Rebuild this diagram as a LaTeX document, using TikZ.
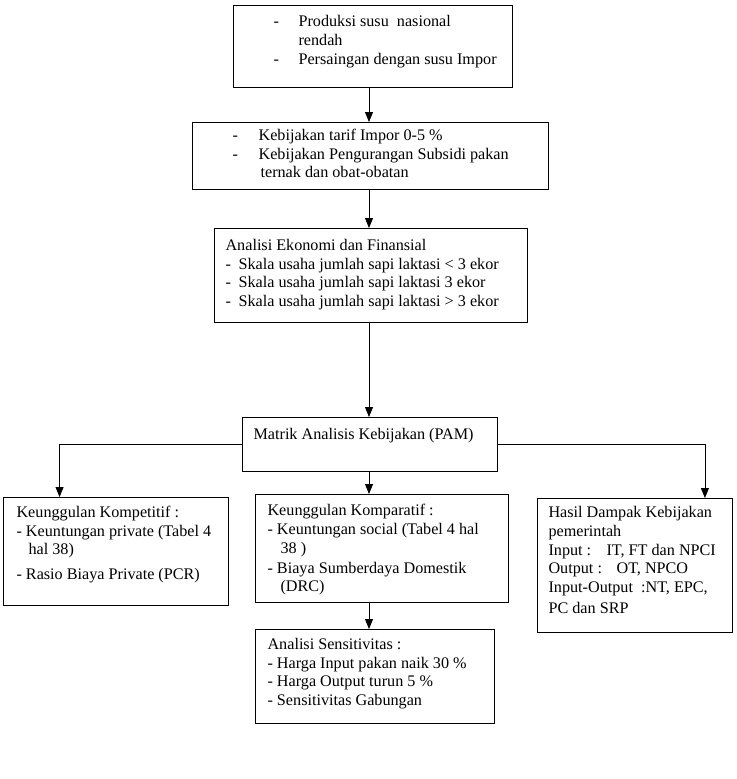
\documentclass[tikz,border=0pt]{standalone}
\usepackage{fontspec}
\setmainfont{Liberation Serif}
\usepackage{tikz}
\usetikzlibrary{calc}
\usetikzlibrary{arrows.meta}
\usetikzlibrary{positioning}
% text block inside a box: width, height, top gap, left gap, lines
\newcommand{\isikotak}[5]{\parbox[c][#2][t]{#1}{\vspace*{#3}\raggedright\leftskip=#4\relax\noindent\strut#5}}
\tikzset{
  kotak/.style={draw, line width=0.8pt, rectangle, anchor=north west, inner sep=0pt,
                font=\fontsize{11.5pt}{13.3pt}\selectfont},
  panah/.style={-{Triangle[length=0.25cm, width=0.2cm]}, line width=0.6pt}
}

\begin{document}
\begin{tikzpicture}[x=0.025cm, y=-0.025cm]
            % Frame to fix the page size:
            \useasboundingbox (0,0) rectangle (737,779);
            \node[kotak] (masalah) at (233,5)
                 {\isikotak{6.975cm}{2.05cm}{0.2cm}{1.0cm}{%
                  \makebox[0.625cm][l]{-}Produksi susu\ \ nasional\\
                  \hspace*{0.625cm}rendah\\
                  \makebox[0.625cm][l]{-}Persaingan dengan susu Impor}};
            \node[kotak] (kebijakan) at (192,122)
                 {\isikotak{8.9cm}{1.675cm}{0.12cm}{1.0cm}{%
                  \makebox[0.65cm][l]{-}Kebijakan tarif Impor 0-5 \%\\
                  \makebox[0.65cm][l]{-}Kebijakan Pengurangan Subsidi pakan\\
                  \hspace*{0.7cm}ternak dan obat-obatan}};
            \node[kotak] (analisis) at (214,228)
                 {\isikotak{7.825cm}{2.35cm}{0.22cm}{0.275cm}{%
                  Analisi Ekonomi dan Finansial\\
                  \makebox[0.325cm][l]{-}Skala usaha jumlah sapi laktasi \textless{} 3 ekor\\
                  \makebox[0.325cm][l]{-}Skala usaha jumlah sapi laktasi 3 ekor\\
                  \makebox[0.325cm][l]{-}Skala usaha jumlah sapi laktasi \textgreater{} 3 ekor}};
            \node[kotak] (pam) at (242,417)
                 {\isikotak{6.375cm}{1.35cm}{0.22cm}{0.275cm}{%
                  Matrik Analisis Kebijakan (PAM)}};
            \node[kotak] (kompetitif) at (3,497)
                 {\isikotak{5.625cm}{2.7cm}{0.17cm}{0.325cm}{%
                  Keunggulan Kompetitif :\\
                  - Keuntungan private (Tabel 4\\
                  \hspace*{0.3cm}hal 38)\\[4pt]
                  - Rasio Biaya Private (PCR)}};
            \node[kotak] (komparatif) at (255,494)
                 {\isikotak{6.325cm}{2.7cm}{0.2cm}{0.3cm}{%
                  Keunggulan Komparatif :\\
                  - Keuntungan social (Tabel 4 hal\\
                  \hspace*{0.325cm}38 )\\[1pt]
                  - Biaya Sumberdaya Domestik\\
                  \hspace*{0.325cm}(DRC)}};
            \node[kotak] (sensitivitas) at (255,629)
                 {\isikotak{5.975cm}{2.35cm}{0.17cm}{0.3cm}{%
                  Analisi Sensitivitas :\\
                  - Harga Input pakan naik 30 \%\\
                  - Harga Output turun 5 \%\\
                  - Sensitivitas Gabungan}};
            \node[kotak] (dampak) at (537,498)
                 {\isikotak{4.875cm}{3.35cm}{0.15cm}{0.275cm}{%
                  Hasil Dampak Kebijakan\\
                  pemerintah\\
                  \makebox[1.45cm][l]{Input :}IT, FT dan NPCI\\
                  \makebox[1.7cm][l]{Output :}OT, NPCO\\
                  Input-Output\ \ :NT, EPC,\\[2pt]
                  PC dan SRP}};
            % Main spine:
            \coordinate (tengah) at (369,0);
            \draw[panah] (masalah.south -| tengah)    -- (kebijakan.north -| tengah);
            \draw[panah] (kebijakan.south -| tengah)  -- (analisis.north -| tengah);
            \draw[panah] (analisis.south -| tengah)   -- (pam.north -| tengah);
            \draw[panah] (pam.south -| tengah)        -- (komparatif.north -| tengah);
            \draw[panah] (komparatif.south -| tengah) -- (sensitivitas.north -| tengah);
            % Side branches:
            \draw[panah] (pam.west) -| ($(kompetitif.north west)!0.25!(kompetitif.north east)$);
            \draw[panah] (pam.east) -| ($(dampak.north west)!0.856!(dampak.north east)$);
        \end{tikzpicture}
\end{document}
